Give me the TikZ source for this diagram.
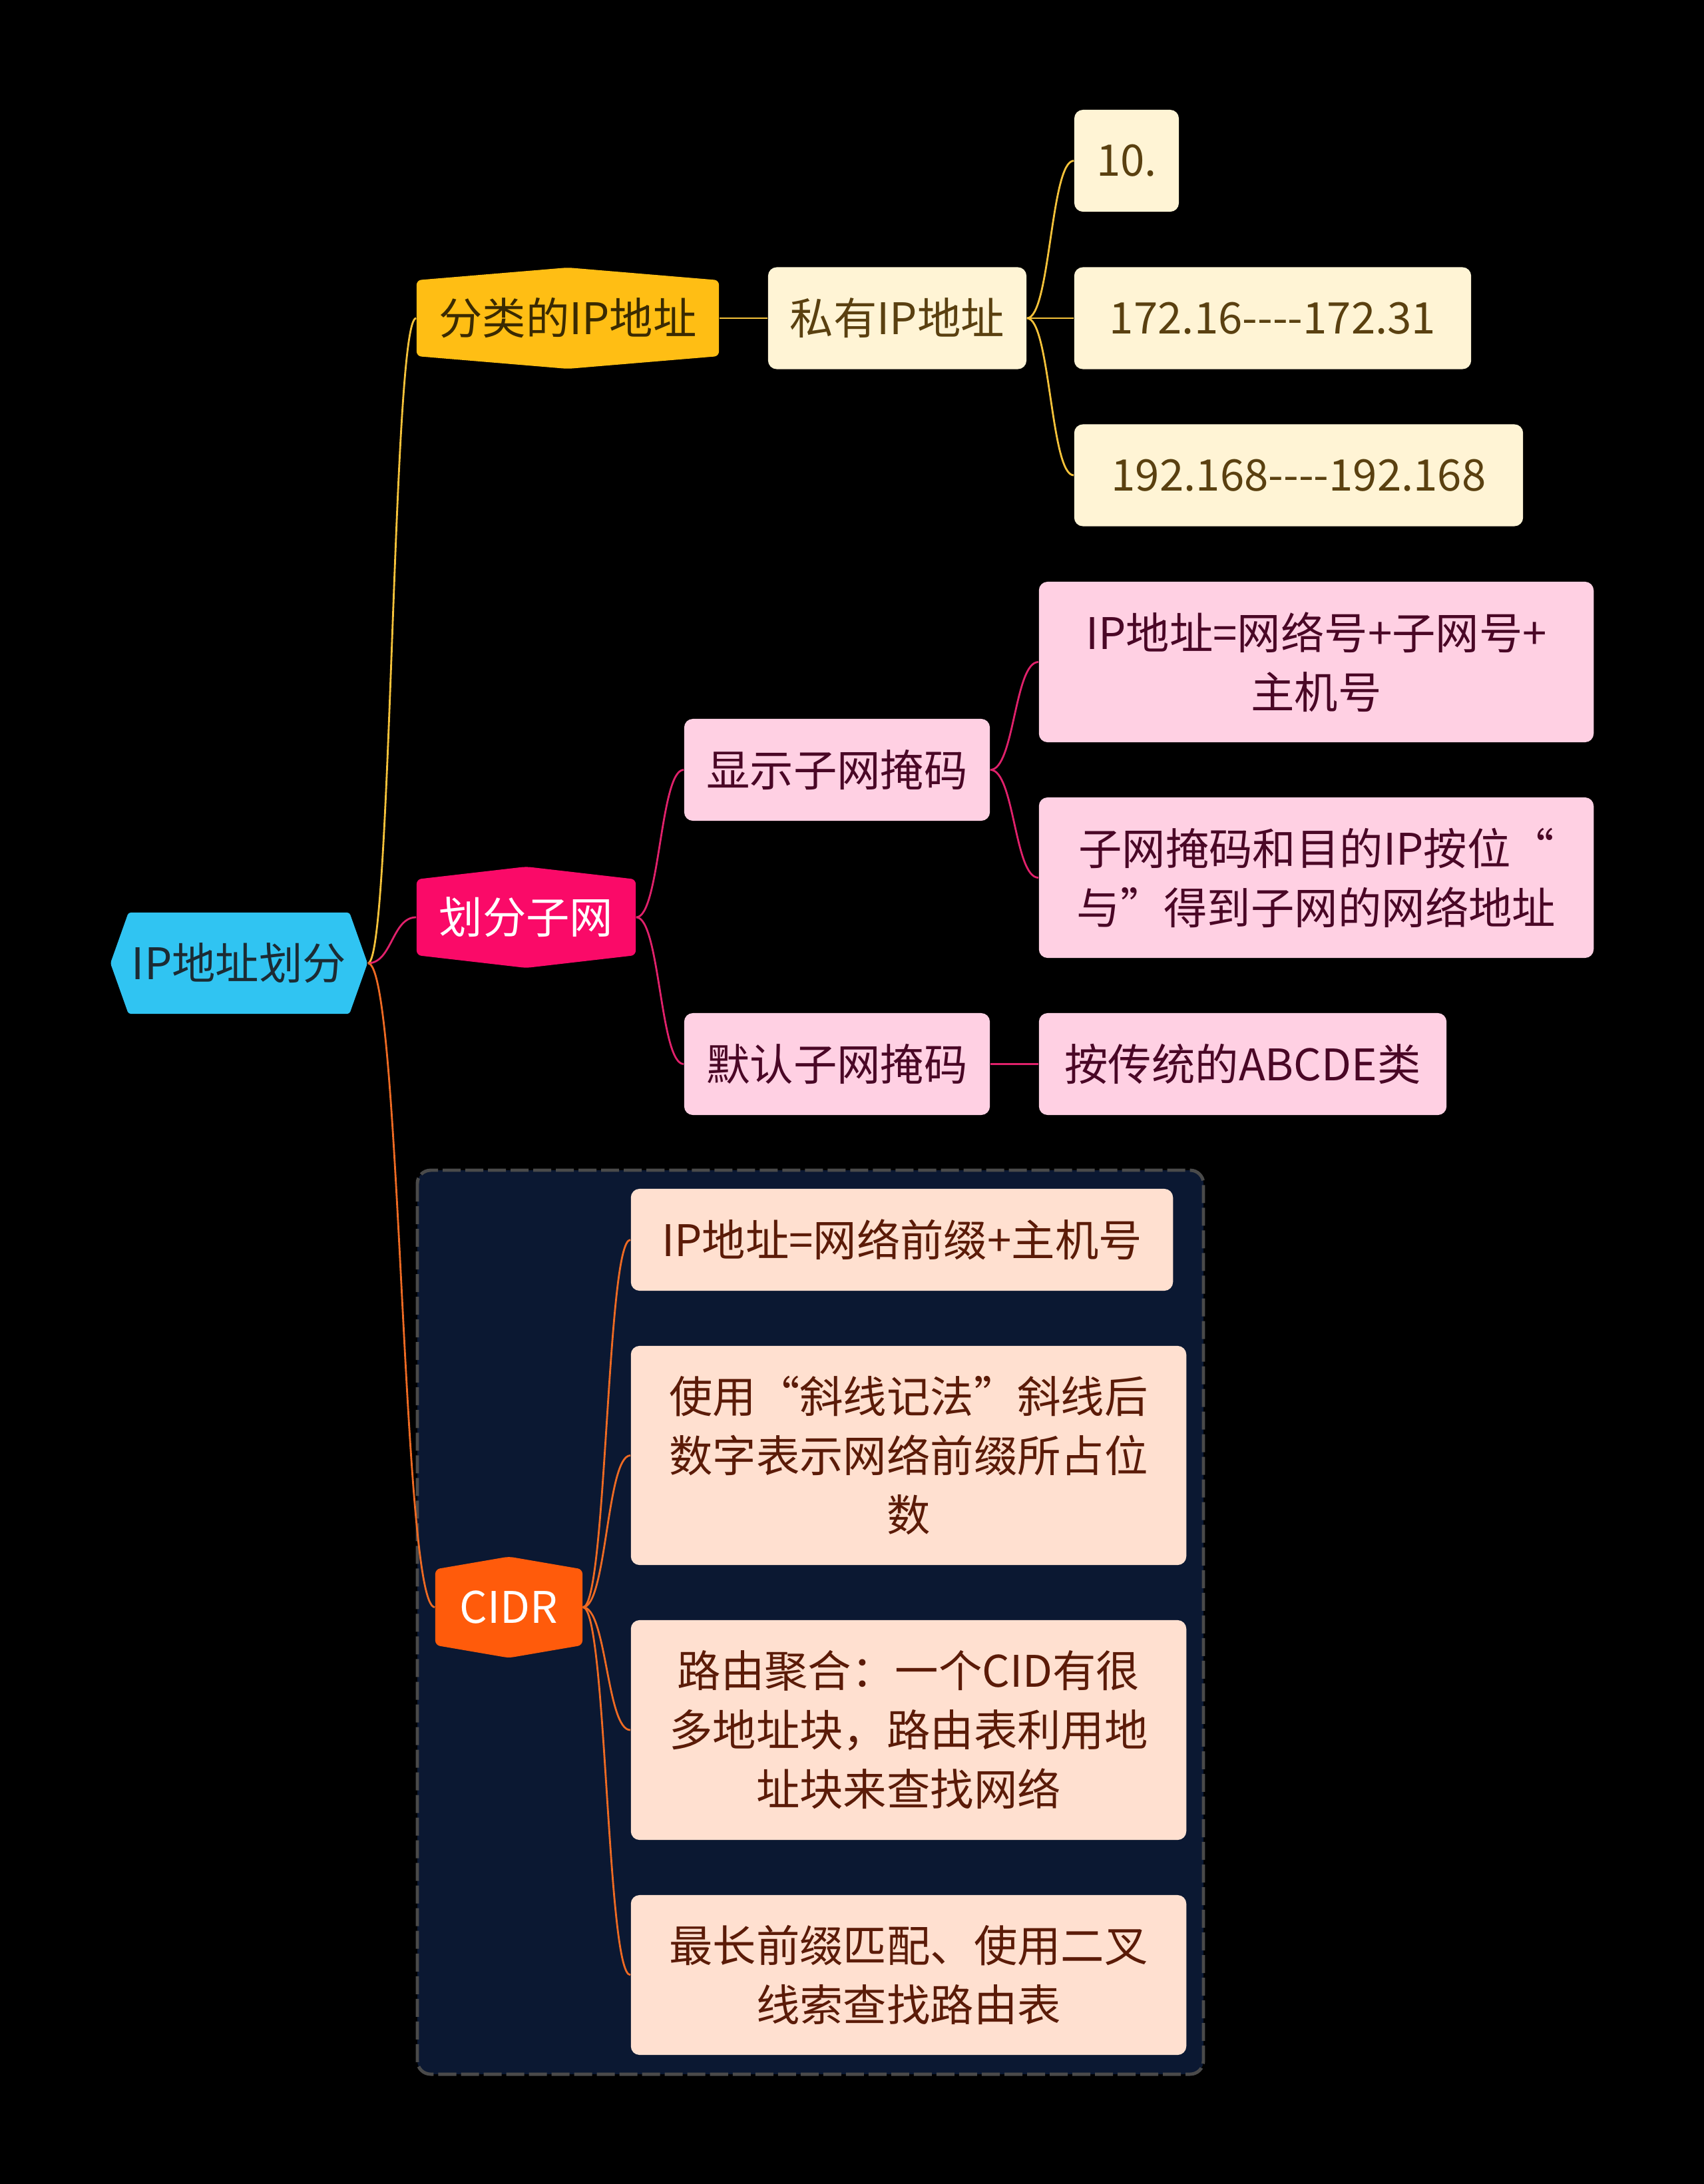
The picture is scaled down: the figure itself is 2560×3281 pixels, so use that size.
\documentclass[tikz,border=0pt]{standalone}
\usepackage{fontspec}
\setmainfont{Noto Sans CJK SC}
\usetikzlibrary{calc}
\definecolor{rootc}{HTML}{30C4F2}
\definecolor{roott}{HTML}{1C2B33}
\definecolor{clsc}{HTML}{FFBE14}
\definecolor{clst}{HTML}{3A2A02}
\definecolor{creamc}{HTML}{FFF4D5}
\definecolor{creamt}{HTML}{5A4010}
\definecolor{subc}{HTML}{FA0A68}
\definecolor{pinkc}{HTML}{FFD0E3}
\definecolor{pinkt}{HTML}{4A0726}
\definecolor{cidrc}{HTML}{FF5B0B}
\definecolor{peachc}{HTML}{FFE0D0}
\definecolor{peacht}{HTML}{5B1B08}
\definecolor{panelc}{HTML}{0B1832}
\definecolor{paneld}{HTML}{4A4A4A}
\definecolor{ylw}{HTML}{F5C23A}
\definecolor{pnk}{HTML}{E0216B}
\definecolor{org}{HTML}{EE6A23}
\newcommand\mapfont{\fontsize{18.6pt}{25.3pt}\selectfont}
\tikzset{
  % rounded topic boxes
  boxn/.style={rectangle,rounded corners=0.13cm,fill=#1,inner sep=0pt,
    align=center,font=\mapfont,minimum height=1.53cm},
  % hexagon with points at top and bottom, drawn inside the node box
  hexn/.style={rectangle,inner sep=0pt,align=center,font=\mapfont,minimum height=1.52cm,
    path picture={\fill[#1,rounded corners=2pt]
      (path picture bounding box.north) --
      ([yshift=-0.19cm]path picture bounding box.north east) --
      ([yshift=0.19cm]path picture bounding box.south east) --
      (path picture bounding box.south) --
      ([yshift=0.19cm]path picture bounding box.south west) --
      ([yshift=-0.19cm]path picture bounding box.north west) -- cycle;}},
  % hexagon with points left and right (the central topic)
  hexlr/.style={rectangle,inner sep=0pt,align=center,font=\mapfont,minimum height=1.52cm,
    path picture={\fill[#1,rounded corners=1pt]
      (path picture bounding box.west) --
      ([xshift=0.27cm]path picture bounding box.north west) --
      ([xshift=-0.27cm]path picture bounding box.north east) --
      (path picture bounding box.east) --
      ([xshift=-0.27cm]path picture bounding box.south east) --
      ([xshift=0.27cm]path picture bounding box.south west) -- cycle;}},
  % s-shaped branch, horizontal at both ends
  lnk/.style={draw=#1,line width=0.8pt,
    to path={let \p1=(\tikztostart), \p2=(\tikztotarget) in
      .. controls ({0.5*\x1+0.5*\x2},\y1) and ({0.5*\x1+0.5*\x2},\y2) .. (\tikztotarget)}},
  panel/.style={fill=panelc,draw=paneld,line width=1.4pt,rounded corners=0.2cm,
    dash pattern=on 0.27cm off 0.07cm},
}
\begin{document}
\begin{tikzpicture}[x=0.01cm,y=-0.01cm]
  \fill[black] (0,0) rectangle (2560,3281);
  % ---- CIDR panel ----
  \draw[panel] (627,1758) rectangle (1808,3116);
  % ---- central topic ----
  \node[hexlr=rootc,text=roott,minimum width=3.86cm] (root) at (359,1447) {IP地址划分};
  % ---- branch 1: classful addresses ----
  \node[hexn=clsc,text=clst,minimum width=4.54cm] (cls) at (853,478) {分类的IP地址};
  \node[boxn=creamc,text=creamt,minimum width=3.88cm] (priv) at (1348,478) {私有IP地址};
  \node[boxn=creamc,text=creamt,minimum width=1.57cm] (p10) at (1692.5,241.5) {10.};
  \node[boxn=creamc,text=creamt,minimum width=5.96cm] (p172) at (1912,478) {172.16-{}-{}-{}-172.31};
  \node[boxn=creamc,text=creamt,minimum width=6.74cm] (p192) at (1951,714) {192.168-{}-{}-{}-192.168};
  % ---- branch 2: subnetting ----
  \node[hexn=subc,text=white,minimum width=3.29cm] (sub) at (790.5,1378) {划分子网};
  \node[boxn=pinkc,text=pinkt,minimum width=4.59cm] (show) at (1257.5,1156.5) {显示子网掩码};
  \node[boxn=pinkc,text=pinkt,minimum width=4.59cm] (dflt) at (1257.5,1598.5) {默认子网掩码};
  \node[boxn=pinkc,text=pinkt,minimum width=8.33cm,minimum height=2.41cm] (sA) at (1977.5,994.5)
    {IP地址=网络号+子网号+\\主机号};
  \node[boxn=pinkc,text=pinkt,minimum width=8.33cm,minimum height=2.41cm] (sB) at (1977.5,1318.5)
    {子网掩码和目的IP按位“\\与”得到子网的网络地址};
  \node[boxn=pinkc,text=pinkt,minimum width=6.12cm] (dA) at (1867,1598.5) {按传统的ABCDE类};
  % ---- branch 3: CIDR ----
  \node[hexn=cidrc,text=white,minimum width=2.21cm] (cidr) at (764.5,2414.5) {CIDR};
  \node[boxn=peachc,text=peacht,minimum width=8.14cm] (c1) at (1355,1862.5) {IP地址=网络前缀+主机号};
  \node[boxn=peachc,text=peacht,minimum width=8.34cm,minimum height=3.29cm] (c2) at (1365,2186.5)
    {使用“斜线记法”斜线后\\数字表示网络前缀所占位\\数};
  \node[boxn=peachc,text=peacht,minimum width=8.34cm,minimum height=3.3cm] (c3) at (1365,2599)
    {路由聚合：一个CID有很\\多地址块，路由表利用地\\址块来查找网络};
  \node[boxn=peachc,text=peacht,minimum width=8.34cm,minimum height=2.4cm] (c4) at (1365,2967)
    {最长前缀匹配、使用二叉\\线索查找路由表};
  % ---- branches ----
  \draw[lnk=ylw] (root.east) to (cls.west);
  \draw[lnk=ylw] (cls.east) to (priv.west);
  \draw[lnk=ylw] (priv.east) to (p10.west);
  \draw[lnk=ylw] (priv.east) to (p172.west);
  \draw[lnk=ylw] (priv.east) to (p192.west);
  \draw[lnk=pnk] (root.east) to (sub.west);
  \draw[lnk=pnk] (sub.east) to (show.west);
  \draw[lnk=pnk] (sub.east) to (dflt.west);
  \draw[lnk=pnk] (show.east) to (sA.west);
  \draw[lnk=pnk] (show.east) to (sB.west);
  \draw[lnk=pnk] (dflt.east) to (dA.west);
  \draw[lnk=org] (root.east) to (cidr.west);
  \draw[lnk=org] (cidr.east) to (c1.west);
  \draw[lnk=org] (cidr.east) to (c2.west);
  \draw[lnk=org] (cidr.east) to (c3.west);
  \draw[lnk=org] (cidr.east) to (c4.west);
\end{tikzpicture}
\end{document}
